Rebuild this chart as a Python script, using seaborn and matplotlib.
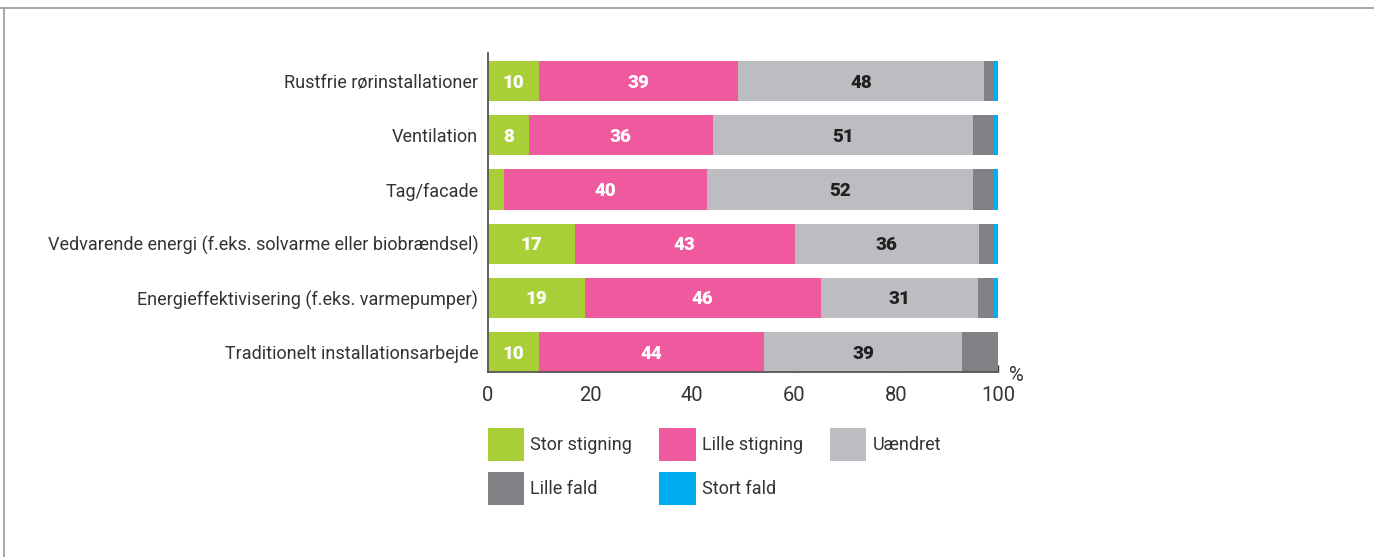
import numpy as np
import pandas as pd
import matplotlib
matplotlib.use("Agg")
import matplotlib.pyplot as plt
import seaborn as sns
from matplotlib.patches import Patch
from matplotlib.lines import Line2D

# data (percent)
categories = [
    "Rustfrie rørinstallationer",
    "Ventilation",
    "Tag/facade",
    "Vedvarende energi (f.eks. solvarme eller biobrændsel)",
    "Energieffektivisering (f.eks. varmepumper)",
    "Traditionelt installationsarbejde",
]
series = ["Stor stigning", "Lille stigning", "Uændret", "Lille fald", "Stort fald"]
stor_stigning = [10.0, 8.0, 3.1, 17.0, 19.0, 10.0]
lille_stigning = [39.0, 36.1, 39.9, 43.1, 46.2, 44.2]
uaendret = [48.2, 51.0, 52.1, 36.1, 30.8, 38.8]
lille_fald = [1.8, 3.9, 3.9, 2.8, 3.0, 7.0]
stort_fald = [1.0, 1.0, 1.0, 1.0, 1.0, 0.0]

colors = ["#a9cf38", "#ef5a9f", "#bcbdc0", "#808285", "#00adee"]
label_colors = ["white", "white", "#231f20", None, None]

df = pd.DataFrame({
    "category": categories,
    "Stor stigning": stor_stigning,
    "Lille stigning": lille_stigning,
    "Uændret": uaendret,
    "Lille fald": lille_fald,
    "Stort fald": stort_fald,
})
cum = df[series].cumsum(axis=1)
cum["category"] = df["category"]

sns.set_theme(style="white")
plt.rcParams["font.family"] = ["Roboto", "DejaVu Sans"]
text_col = "#333333"

fig = plt.figure(figsize=(13.74, 5.57), dpi=100)
ax = fig.add_axes([0.3552, 0.3321, 0.3712, 0.5727])

# stacked bars: draw cumulative totals from the back to the front
for s, c in reversed(list(zip(series, colors))):
    sns.barplot(data=cum, x=s, y="category", color=c, orient="h",
                width=0.74, saturation=1, ax=ax, linewidth=0)

# segment labels
for j, s in enumerate(series):
    if label_colors[j] is None:
        continue
    for i in range(len(categories)):
        v = df[s].iloc[i]
        if v < 5:
            continue
        x = cum[s].iloc[i] - v / 2
        ax.text(x, i + 0.03, f"{v:.0f}", ha="center", va="center",
                color=label_colors[j], fontsize=13.5, fontweight="heavy")

ax.set_xlim(0, 100)
ax.set_ylim(5.37, -0.52)
ax.set_xlabel("")
ax.set_ylabel("")
ax.set_xticks([0, 20, 40, 60, 80, 100])
for sp in ["top", "right"]:
    ax.spines[sp].set_visible(False)
for sp in ["left", "bottom"]:
    ax.spines[sp].set_color("#555555")
    ax.spines[sp].set_linewidth(1.3)
ax.tick_params(axis="y", direction="in", length=8.5, width=1, color="#333333",
               pad=7, labelsize=13, labelcolor=text_col, left=True)
ax.tick_params(axis="x", direction="in", length=5, width=1, color="#333333",
               pad=10, labelsize=14.5, labelcolor=text_col, bottom=True)
ax.text(1.035, -0.01, "%", transform=ax.transAxes, ha="center", va="center",
        fontsize=14.5, color=text_col)

# legend, arranged row by row
handles = [Patch(facecolor=c, edgecolor="none") for c in colors]
order = [0, 3, 1, 4, 2]
leg = fig.legend([handles[k] for k in order], [series[k] for k in order],
                 loc="upper left", bbox_to_anchor=(0.3552, 0.2316), ncol=3,
                 frameon=False, fontsize=13, handlelength=2.0, handleheight=2.44,
                 handletextpad=0.35, columnspacing=1.5, labelspacing=0.6,
                 borderpad=0, borderaxespad=0, labelcolor=text_col)

# thin frame lines at the top and left
fig.add_artist(Line2D([0, 1], [1 - 7.5 / 557, 1 - 7.5 / 557], transform=fig.transFigure,
                      color="#999999", linewidth=1.2))
fig.add_artist(Line2D([3.5 / 1374, 3.5 / 1374], [0, 1 - 7.5 / 557], transform=fig.transFigure,
                      color="#999999", linewidth=1.2))

fig.savefig("out.png", dpi=100)
